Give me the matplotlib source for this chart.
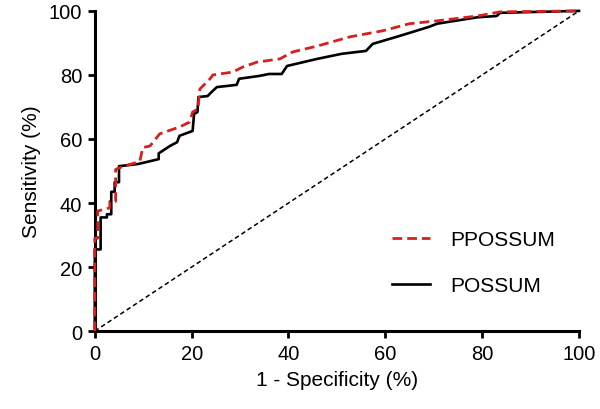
"""ROC curves: PPOSSUM vs POSSUM."""
import matplotlib
matplotlib.use("Agg")
import matplotlib.pyplot as plt

plt.rcParams["font.family"] = ["Liberation Sans", "DejaVu Sans"]

# ROC vertices (1 - specificity, sensitivity), in %
possum_fpr = [0, 0, 1.2, 1.2, 2.5, 2.5, 3.4, 3.4, 4.1, 4.1, 5.0, 5.0, 9.0, 13.2,
              13.2, 15.5, 17.0, 17.5, 20.2, 20.5, 21.2, 21.4, 23.3, 24.0, 25.2,
              29.3, 29.8, 34.0, 36.0, 38.6, 39.7, 45.9, 51.0, 56.0, 57.4, 63.0,
              69.0, 70.7, 79.0, 83.0, 83.7, 100]
possum_tpr = [0, 25.5, 25.5, 35.5, 35.5, 36.5, 36.5, 43.5, 43.5, 46.5, 46.5, 51.5,
              52.2, 53.7, 55.5, 57.8, 59.0, 61.0, 62.5, 67.8, 68.4, 73.1, 73.4,
              74.5, 76.2, 76.9, 78.8, 79.7, 80.3, 80.3, 82.8, 85.0, 86.6, 87.5,
              89.7, 92.2, 95.0, 96.0, 98.0, 98.4, 99.4, 100]

pposs_fpr = [0, 0, 0.6, 0.6, 3.1, 3.1, 4.3, 4.3, 5.6, 9.3, 9.9, 11.4, 13.4, 17.6,
             19.6, 20.2, 21.3, 21.7, 23.8, 24.4, 28.5, 30.6, 33.5, 38.2, 40.9,
             45.9, 52.7, 59.5, 65.0, 70.7, 79.0, 83.7, 100]
pposs_tpr = [0, 29.0, 29.0, 37.5, 38.5, 40.5, 40.5, 50.5, 51.3, 53.0, 57.3, 57.8,
             61.6, 63.8, 65.3, 68.4, 69.4, 75.6, 78.8, 80.0, 80.9, 82.5, 84.0,
             85.0, 87.2, 89.0, 91.9, 93.8, 96.0, 96.9, 98.4, 99.7, 100]

ticks = [0, 20, 40, 60, 80, 100]


def main():
    fig = plt.figure(figsize=(6.0, 4.1), dpi=100)
    ax = fig.add_axes([0.158, 0.190, 0.807, 0.781])

    ax.plot([0, 100], [0, 100], color="black", lw=1.1, ls=(0, (3, 2)),
            clip_on=False, zorder=1)
    ax.plot(possum_fpr, possum_tpr, color="black", lw=1.9, label="POSSUM",
            clip_on=False, zorder=2)
    ax.plot(pposs_fpr, pposs_tpr, color="#d62020", lw=2.0, ls=(0, (3.5, 1.8)),
            label="PPOSSUM", clip_on=False, zorder=3)

    ax.set_xlim(0, 100)
    ax.set_ylim(0, 100)
    ax.set_xticks(ticks)
    ax.set_yticks(ticks)
    ax.tick_params(labelsize=14.5, length=5, width=2.0, direction="out", pad=4)
    for side in ("top", "right"):
        ax.spines[side].set_visible(False)
    for side in ("left", "bottom"):
        ax.spines[side].set_linewidth(2.2)

    ax.set_xlabel("1 - Specificity (%)", fontsize=15, labelpad=5)
    ax.set_ylabel("Sensitivity (%)", fontsize=15, labelpad=6)

    handles, labels = ax.get_legend_handles_labels()
    ax.legend(handles[::-1], labels[::-1], loc="center left",
              bbox_to_anchor=(0.614, 0.214), frameon=False, fontsize=15,
              handlelength=1.8, handletextpad=1.0, labelspacing=1.3,
              borderpad=0, borderaxespad=0)

    fig.savefig("out.png", dpi=100)


if __name__ == "__main__":
    main()
